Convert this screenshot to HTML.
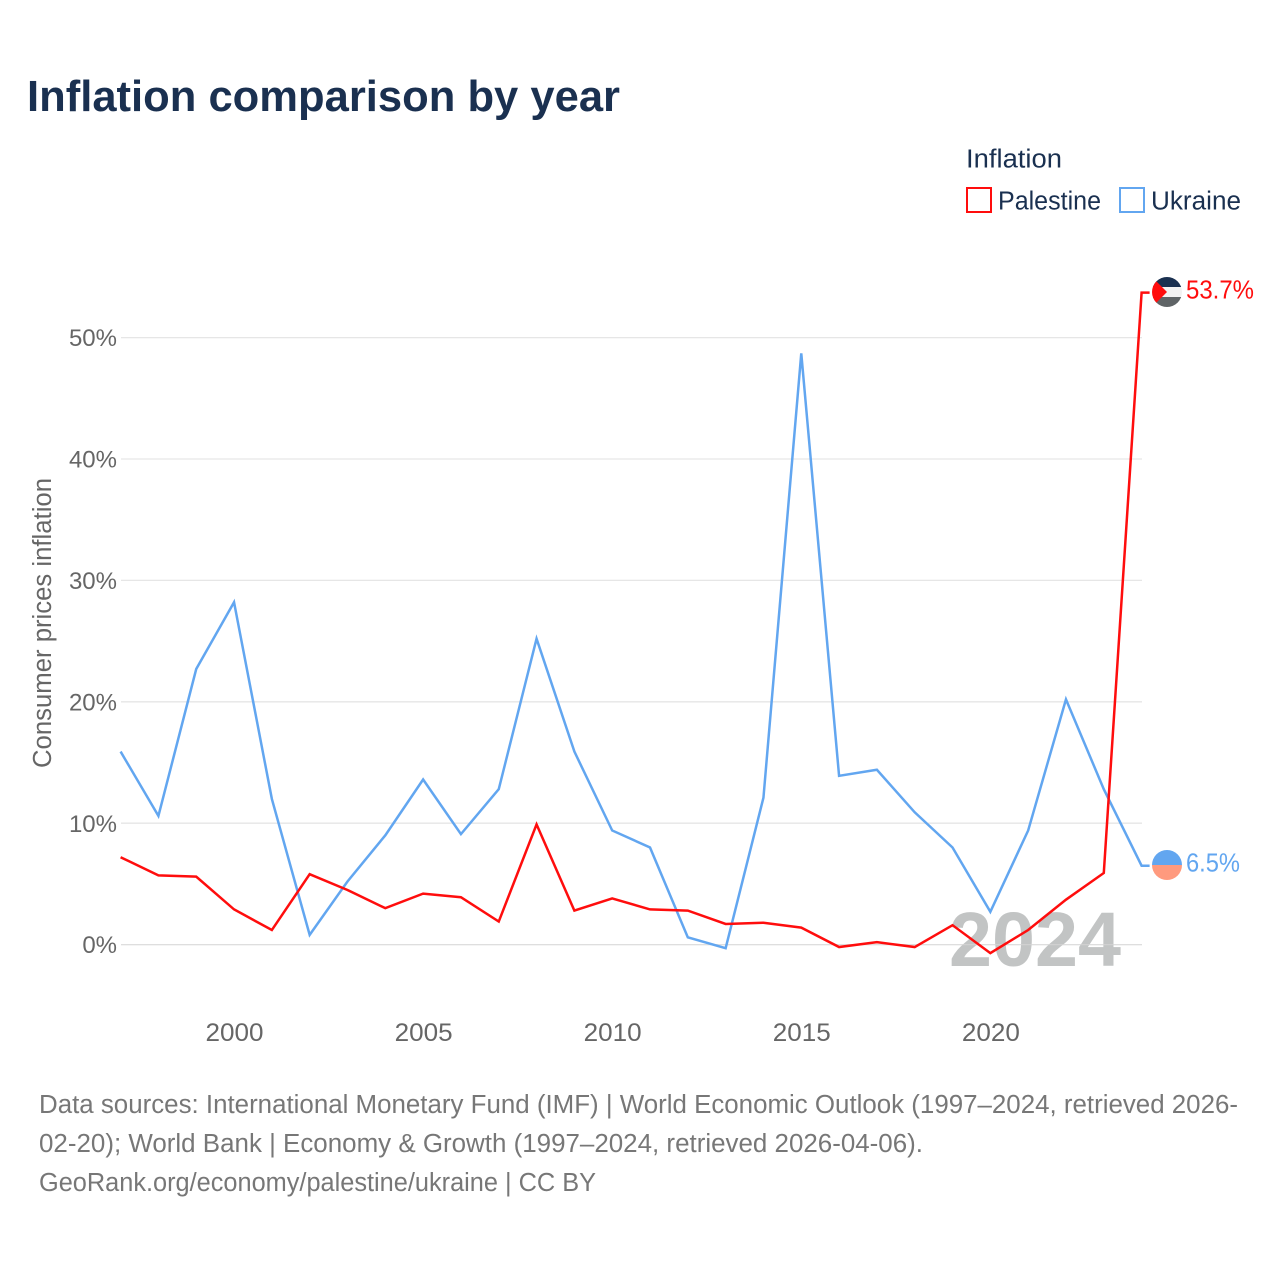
<!DOCTYPE html>
<html lang="en">
<head>
<meta charset="utf-8">
<title>Inflation comparison by year</title>
<style>
html,body{margin:0;padding:0;background:#fff;width:1280px;height:1280px;overflow:hidden}
svg{display:block;font-family:"Liberation Sans",sans-serif}
</style>
</head>
<body>
<svg id="chart" xmlns="http://www.w3.org/2000/svg" width="1280" height="1280" viewBox="0 0 1280 1280">
  <defs>
    <clipPath id="flag-clip"><circle cx="1167" cy="292" r="15"/></clipPath>
    <clipPath id="ua-clip"><circle cx="1167" cy="865" r="15"/></clipPath>
  </defs>
  <rect width="1280" height="1280" fill="#fff"/>
  <text x="27" y="111" font-size="44" font-weight="700" fill="#1a3050" textLength="593" lengthAdjust="spacingAndGlyphs">Inflation comparison by year</text>

  <text x="966" y="167.500" font-size="25.500" fill="#1a3050" textLength="96" lengthAdjust="spacingAndGlyphs">Inflation</text>
  <rect x="967" y="188" width="24" height="24" fill="#fff" stroke="#ff0d0d" stroke-width="2"/>
  <text x="998" y="209.500" font-size="25.500" fill="#1a3050" textLength="103" lengthAdjust="spacingAndGlyphs">Palestine</text>
  <rect x="1120" y="188" width="24" height="24" fill="#fff" stroke="#62a6f0" stroke-width="2"/>
  <text x="1151" y="209.500" font-size="25.500" fill="#1a3050" textLength="90" lengthAdjust="spacingAndGlyphs">Ukraine</text>

  <text transform="translate(51,768) rotate(-90)" x="0" y="0" font-size="25.500" fill="#666" textLength="290" lengthAdjust="spacingAndGlyphs">Consumer prices inflation</text>

  <g id="grid"></g>
  <g id="y-ticks"></g>
  <g id="x-ticks"></g>

  <text x="949" y="966" font-size="77" font-weight="700" fill="#c2c4c4" textLength="172" lengthAdjust="spacingAndGlyphs">2024</text>
  <g id="grid-over"></g>

  <g id="series"></g>

  <g clip-path="url(#flag-clip)">
    <rect x="1152" y="277" width="30" height="10" fill="#1a3050"/>
    <rect x="1152" y="287" width="30" height="10" fill="#f2f2f2"/>
    <rect x="1152" y="297" width="30" height="10" fill="#5f6466"/>
    <polygon points="1152,277 1167,292 1152,307" fill="#ff0d0d"/>
  </g>
  <g clip-path="url(#ua-clip)">
    <rect x="1152" y="850" width="30" height="15" fill="#62a6f0"/>
    <rect x="1152" y="865" width="30" height="15" fill="#ff9a7e"/>
  </g>
  <text id="label-palestine" x="1186" y="298.500" font-size="25.500" fill="#ff0d0d" textLength="68" lengthAdjust="spacingAndGlyphs"></text>
  <text id="label-ukraine" x="1186" y="871.500" font-size="25.500" fill="#62a6f0" textLength="54" lengthAdjust="spacingAndGlyphs"></text>

  <text x="39" y="1113" font-size="25.500" fill="#777" textLength="1199" lengthAdjust="spacingAndGlyphs">Data sources: International Monetary Fund (IMF) | World Economic Outlook (1997–2024, retrieved 2026-</text>
  <text x="39" y="1152" font-size="25.500" fill="#777" textLength="884" lengthAdjust="spacingAndGlyphs">02-20); World Bank | Economy &amp; Growth (1997–2024, retrieved 2026-04-06).</text>
  <text x="39" y="1191" font-size="25.500" fill="#777" textLength="557" lengthAdjust="spacingAndGlyphs">GeoRank.org/economy/palestine/ukraine | CC BY</text>
</svg>
<script>
const years = [1997,1998,1999,2000,2001,2002,2003,2004,2005,2006,2007,2008,2009,2010,2011,2012,2013,2014,2015,2016,2017,2018,2019,2020,2021,2022,2023,2024];
const palestine = [7.2,5.7,5.6,2.9,1.2,5.8,4.5,3.0,4.2,3.9,1.9,9.9,2.8,3.8,2.9,2.8,1.7,1.8,1.4,-0.2,0.2,-0.2,1.6,-0.7,1.2,3.7,5.9,53.7];
const ukraine = [15.9,10.6,22.7,28.2,12.0,0.8,5.2,9.0,13.6,9.1,12.8,25.2,15.9,9.4,8.0,0.6,-0.3,12.1,48.7,13.9,14.4,10.9,8.0,2.7,9.4,20.2,12.8,6.5];
const yTicks = [0,10,20,30,40,50];
const xTicks = [2000,2005,2010,2015,2020];

const NS = 'http://www.w3.org/2000/svg';
const xScale = function (year) { return 120.6 + (year - 1997) * (1141.6 - 120.6) / 27; };
const yScale = function (value) { return 944.6 - value * 12.14; };
const make = function (tag) { return document.createElementNS(NS, tag); };

const gridGroup = document.getElementById('grid');
const yTickGroup = document.getElementById('y-ticks');
const xTickGroup = document.getElementById('x-ticks');
const seriesGroup = document.getElementById('series');

yTicks.forEach(function (tick) {
  const line = make('line');
  
  
  line.setAttribute('x1', 121);
  line.setAttribute('x2', 1142);
  line.setAttribute('y1', yScale(tick));
  line.setAttribute('y2', yScale(tick));
  line.setAttribute('stroke', '#e6e6e6');
  line.setAttribute('stroke-width', '1.3');
  gridGroup.appendChild(line);

  const label = make('text');
  
  
  label.setAttribute('x', 117);
  label.setAttribute('y', yScale(tick) + 8.6);
  label.setAttribute('text-anchor', 'end');
  label.setAttribute('font-size', '24');
  label.setAttribute('fill', '#666');
  label.textContent = tick + '%';
  yTickGroup.appendChild(label);
});

const overLine = make('line');


overLine.setAttribute('x1', 121);
overLine.setAttribute('x2', 1142);
overLine.setAttribute('y1', yScale(0));
overLine.setAttribute('y2', yScale(0));
overLine.setAttribute('stroke', '#d8d8d8');
overLine.setAttribute('stroke-opacity', '0.6');
overLine.setAttribute('stroke-width', '1.3');
document.getElementById('grid-over').appendChild(overLine);

xTicks.forEach(function (tick) {
  const label = make('text');
  
  
  label.setAttribute('x', xScale(tick) + 0.5);
  label.setAttribute('y', 1041);
  label.setAttribute('text-anchor', 'middle');
  label.setAttribute('font-size', '25');
  label.setAttribute('fill', '#666');
  label.setAttribute('textLength', '58');
  label.setAttribute('lengthAdjust', 'spacingAndGlyphs');
  label.textContent = String(tick);
  xTickGroup.appendChild(label);
});

const buildPoints = function (values) {
  const pts = values.map(function (v, i) { return xScale(years[i]).toFixed(2) + ',' + yScale(v).toFixed(2); });
  const last = values[values.length - 1];
  pts.push((xScale(years[years.length - 1]) + 8).toFixed(2) + ',' + yScale(last).toFixed(2));
  return pts.join(' ');
};

const ukraineLine = make('polyline');


ukraineLine.setAttribute('points', buildPoints(ukraine));
ukraineLine.setAttribute('fill', 'none');
ukraineLine.setAttribute('stroke', '#62a6f0');
ukraineLine.setAttribute('stroke-width', '2.5');
seriesGroup.appendChild(ukraineLine);

const palestineLine = make('polyline');


palestineLine.setAttribute('points', buildPoints(palestine));
palestineLine.setAttribute('fill', 'none');
palestineLine.setAttribute('stroke', '#ff0d0d');
palestineLine.setAttribute('stroke-width', '2.5');
seriesGroup.appendChild(palestineLine);

document.getElementById('label-palestine').textContent = palestine[palestine.length - 1].toFixed(1) + '%';
document.getElementById('label-ukraine').textContent = ukraine[ukraine.length - 1].toFixed(1) + '%';
</script>
</body>
</html>
